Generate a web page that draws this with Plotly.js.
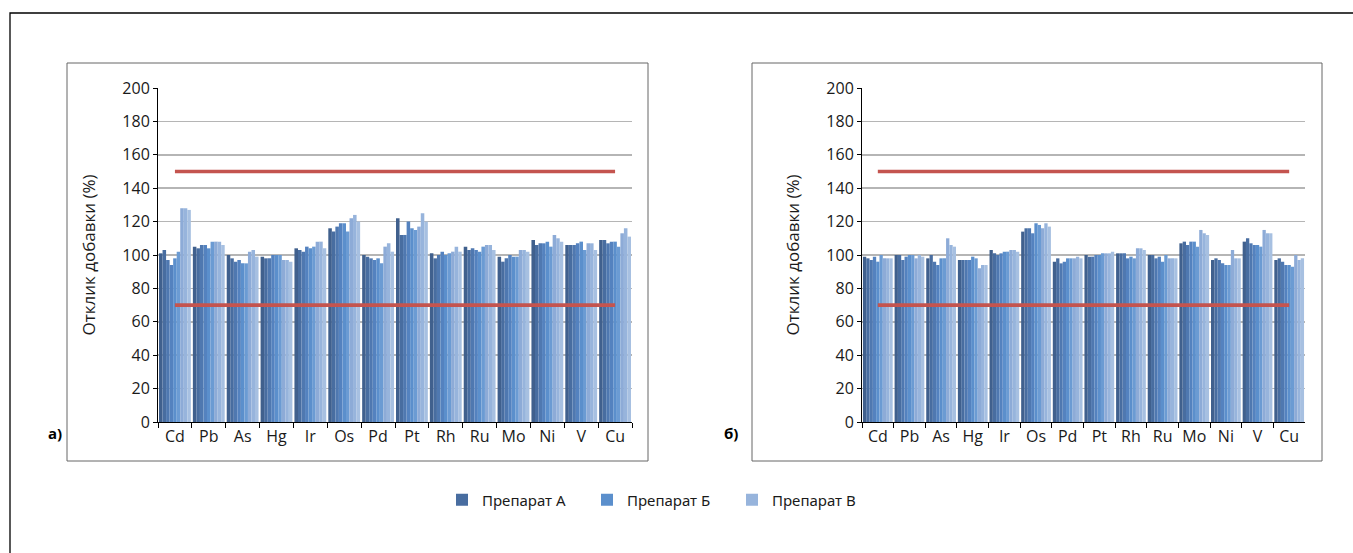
<!DOCTYPE html>
<html>
<head>
<meta charset="utf-8">
<script src="https://cdn.plot.ly/plotly-3.0.1.min.js"></script>
<style>
html,body{margin:0;padding:0;background:#fff;}
#chart{width:1353px;height:553px;}
</style>
</head>
<body>
<div id="chart"></div>
<script>
// Categories
const elements = ['Cd','Pb','As','Hg','Ir','Os','Pd','Pt','Rh','Ru','Mo','Ni','V','Cu'];
const seriesNames = ['Препарат А','Препарат Б','Препарат В'];
const limitHigh = [150,150,150,150,150,150,150,150,150,150,150,150,150,150];
const limitLow  = [70,70,70,70,70,70,70,70,70,70,70,70,70,70];

// Panel а) — three replicates per preparation
const a_A1 = [101,105,100,99,104,116,100,122,101,105,99,109,106,109];
const a_A2 = [103,104,98,98,103,114,99,112,98,103,96,106,106,109];
const a_A3 = [97,106,96,98,102,117,98,112,100,104,98,107,106,107];
const a_B1 = [94,106,97,100,105,119,97,120,102,103,100,107,107,108];
const a_B2 = [98,104,95,100,104,119,98,116,100,102,99,108,108,108];
const a_B3 = [102,108,95,100,105,114,95,115,101,105,99,105,103,105];
const a_V1 = [128,108,102,97,108,122,105,117,102,106,103,112,107,113];
const a_V2 = [128,108,103,97,108,124,107,125,105,106,103,110,107,116];
const a_V3 = [127,106,99,96,104,120,102,120,102,103,102,108,103,111];

// Panel б)
const b_A1 = [99,100,98,97,103,114,96,100,101,100,107,97,108,97];
const b_A2 = [98,100,100,97,101,116,98,99,101,100,108,98,110,98];
const b_A3 = [97,97,96,97,100,116,95,99,101,98,106,97,107,96];
const b_B1 = [99,99,94,97,101,113,96,100,98,99,108,95,106,94];
const b_B2 = [96,100,98,99,102,119,98,100,99,96,108,94,106,94];
const b_B3 = [100,100,98,98,102,118,98,101,98,100,105,94,105,93];
const b_V1 = [98,98,110,92,103,116,98,101,104,98,115,103,115,100];
const b_V2 = [98,100,106,94,103,119,99,101,104,98,113,98,113,97];
const b_V3 = [98,99,105,94,102,117,98,102,103,98,112,98,113,98];

const shades = [
  ['#40608d','#486da0','#4f78b0'],
  ['#5482bf','#5b8fcc','#6b9bd3'],
  ['#8dabd7','#97b4dc','#a7c0e1']
];

const W = 1353, H = 553;
const px = v => v / W;
const py = v => 1 - v / H;

const traces = [];
function addPanel(sets, xa, ya, legendOn) {
  sets.forEach((reps, p) => {
    reps.forEach((vals, r) => {
      traces.push({
        type: 'bar', x: elements, y: vals, xaxis: xa, yaxis: ya,
        name: seriesNames[p], legendgroup: seriesNames[p],
        showlegend: legendOn && r === 1,
        marker: {color: shades[p][r], line: {width: 0}},
        hoverinfo: 'x+y+name'
      });
    });
  });
  [limitHigh, limitLow].forEach(lim => {
    traces.push({
      type: 'scatter', mode: 'lines', x: elements, y: lim, xaxis: xa, yaxis: ya,
      line: {color: '#c4544f', width: 3.6}, showlegend: false, hoverinfo: 'skip'
    });
  });
}
addPanel([[a_A1,a_A2,a_A3],[a_B1,a_B2,a_B3],[a_V1,a_V2,a_V3]], 'x', 'y', true);
addPanel([[b_A1,b_A2,b_A3],[b_B1,b_B2,b_B3],[b_V1,b_V2,b_V3]], 'x2', 'y2', false);

const font = {family: '"Open Sans", "Noto Sans", sans-serif', size: 16, color: '#1a1a1a'};

function xAxis(d0, d1, anchor) {
  return {
    domain: [px(d0), px(d1)], anchor: anchor, type: 'category',
    showline: true, linecolor: '#000', linewidth: 1, tickangle: 0,
    ticks: 'outside', tickson: 'boundaries', ticklen: 5, tickcolor: '#000',
    tickfont: font, showgrid: false, zeroline: false, fixedrange: true
  };
}
function yAxis(anchor) {
  return {
    domain: [py(422), py(88)], anchor: anchor, range: [0, 200], dtick: 20,
    showline: true, linecolor: '#000', linewidth: 1,
    ticks: 'outside', ticklen: 4, tickcolor: '#000',
    tickfont: font, showgrid: true, gridcolor: '#b5b5b5', gridwidth: 1.6,
    zeroline: false, fixedrange: true,
    title: {text: 'Отклик добавки (%)', font: {family: font.family, size: 17, color: '#1a1a1a'}, standoff: 22}
  };
}

const layout = {
  width: W, height: H,
  margin: {l: 0, r: 0, t: 0, b: 0},
  paper_bgcolor: '#fff', plot_bgcolor: '#fff',
  barmode: 'group', bargap: 0.06, bargroupgap: 0,
  xaxis: xAxis(158, 632, 'y'),
  yaxis: yAxis('x'),
  xaxis2: xAxis(862, 1305, 'y2'),
  yaxis2: yAxis('x2'),
  showlegend: true,
  legend: {
    orientation: 'h', x: px(442), xanchor: 'left', y: py(500), yanchor: 'middle',
    font: {family: '"Noto Sans", sans-serif', size: 15, color: '#1a1a1a'},
    entrywidth: 100, entrywidthmode: 'pixels', itemwidth: 30, bgcolor: 'rgba(0,0,0,0)'
  },
  shapes: [
    {type: 'rect', xref: 'paper', yref: 'paper', x0: px(10), x1: 1.02, y0: -0.02, y1: py(13),
     line: {color: '#000', width: 1.3}, fillcolor: 'rgba(0,0,0,0)'},
    {type: 'rect', xref: 'paper', yref: 'paper', x0: px(67), x1: px(648), y0: py(461), y1: py(63),
     line: {color: '#666', width: 1}, fillcolor: 'rgba(0,0,0,0)'},
    {type: 'rect', xref: 'paper', yref: 'paper', x0: px(752), x1: px(1322), y0: py(461), y1: py(63),
     line: {color: '#666', width: 1}, fillcolor: 'rgba(0,0,0,0)'}
  ],
  annotations: [
    {xref: 'paper', yref: 'paper', x: px(46), y: py(445), text: '<b>а)</b>', showarrow: false,
     font: {family: '"Open Sans", sans-serif', size: 15, color: '#000'}},
    {xref: 'paper', yref: 'paper', x: px(731), y: py(445), text: '<b>б)</b>', showarrow: false,
     font: {family: '"Open Sans", sans-serif', size: 15, color: '#000'}}
  ]
};

Plotly.newPlot('chart', traces, layout, {displayModeBar: false, staticPlot: true});
</script>
</body>
</html>
